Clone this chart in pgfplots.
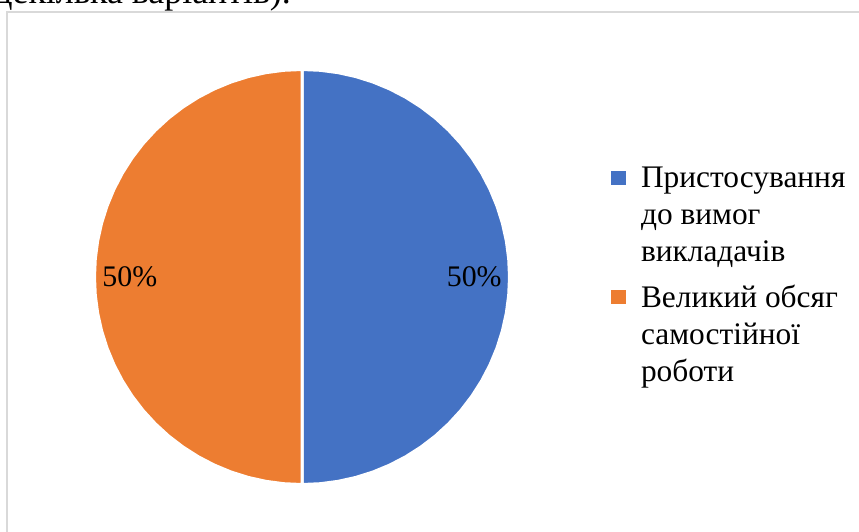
\documentclass[border=0pt]{standalone}
\usepackage{fontspec}
\setmainfont{Liberation Serif}
\usepackage{pgfplots}
\pgfplotsset{compat=1.18}
\usepgfplotslibrary{polar}
\definecolor{pieblue}{HTML}{4472C4}
\definecolor{pieorange}{HTML}{ED7D31}
\definecolor{framegray}{HTML}{D9D9D9}
\begin{document}
\begin{tikzpicture}
\clip (0bp,0bp) rectangle (859bp,-532bp);
\node[anchor=base east, inner sep=0pt, font=\fontsize{36}{42}\selectfont] at (291bp,-3.5bp) {(можна обрати декілька варіантів).};
\draw[framegray, line width=2bp] (7bp,-12bp) rectangle (880bp,-560bp);
\begin{polaraxis}[
  at={(302bp,-277bp)}, anchor=origin,
  scale only axis, width=415bp, height=415bp,
  xmin=0, xmax=360, ymin=0, ymax=1,
  hide axis, clip=false,
  legend cell align=left,
  legend style={draw=none, fill=none, at={(1.237,0.77)}, anchor=north west,
    font=\fontsize{31.5}{37}\selectfont, nodes={align=left, inner sep=0pt},
    row sep=22bp, /tikz/every odd column/.append style={column sep=15bp}},
  legend image code/.code={\fill[#1, draw=none] (0bp,30bp) rectangle (15bp,44bp);},
]
% right half, 50%
\addplot[fill=pieblue, draw=white, line width=3bp] coordinates {
  (0,0) (-90,1) (-85,1) (-80,1) (-75,1) (-70,1) (-65,1) (-60,1) (-55,1) (-50,1)
  (-45,1) (-40,1) (-35,1) (-30,1) (-25,1) (-20,1) (-15,1) (-10,1) (-5,1)
  (0,1) (5,1) (10,1) (15,1) (20,1) (25,1) (30,1) (35,1) (40,1) (45,1)
  (50,1) (55,1) (60,1) (65,1) (70,1) (75,1) (80,1) (85,1) (90,1) (0,0)
};
\addlegendentry{Пристосування\\до вимог\\викладачів}
% left half, 50%
\addplot[fill=pieorange, draw=white, line width=3bp] coordinates {
  (0,0) (90,1) (95,1) (100,1) (105,1) (110,1) (115,1) (120,1) (125,1) (130,1)
  (135,1) (140,1) (145,1) (150,1) (155,1) (160,1) (165,1) (170,1) (175,1)
  (180,1) (185,1) (190,1) (195,1) (200,1) (205,1) (210,1) (215,1) (220,1) (225,1)
  (230,1) (235,1) (240,1) (245,1) (250,1) (255,1) (260,1) (265,1) (270,1) (0,0)
};
\addlegendentry{Великий обсяг\\самостійної\\роботи}
\addplot[forget plot, draw=none, mark=none, nodes near coords, point meta=explicit symbolic,
  every node near coord/.style={anchor=center, font=\fontsize{30}{35}\selectfont}]
  coordinates {(0,0.83) [50\%] (180,0.83) [50\%]};
\end{polaraxis}
\end{tikzpicture}
\end{document}
